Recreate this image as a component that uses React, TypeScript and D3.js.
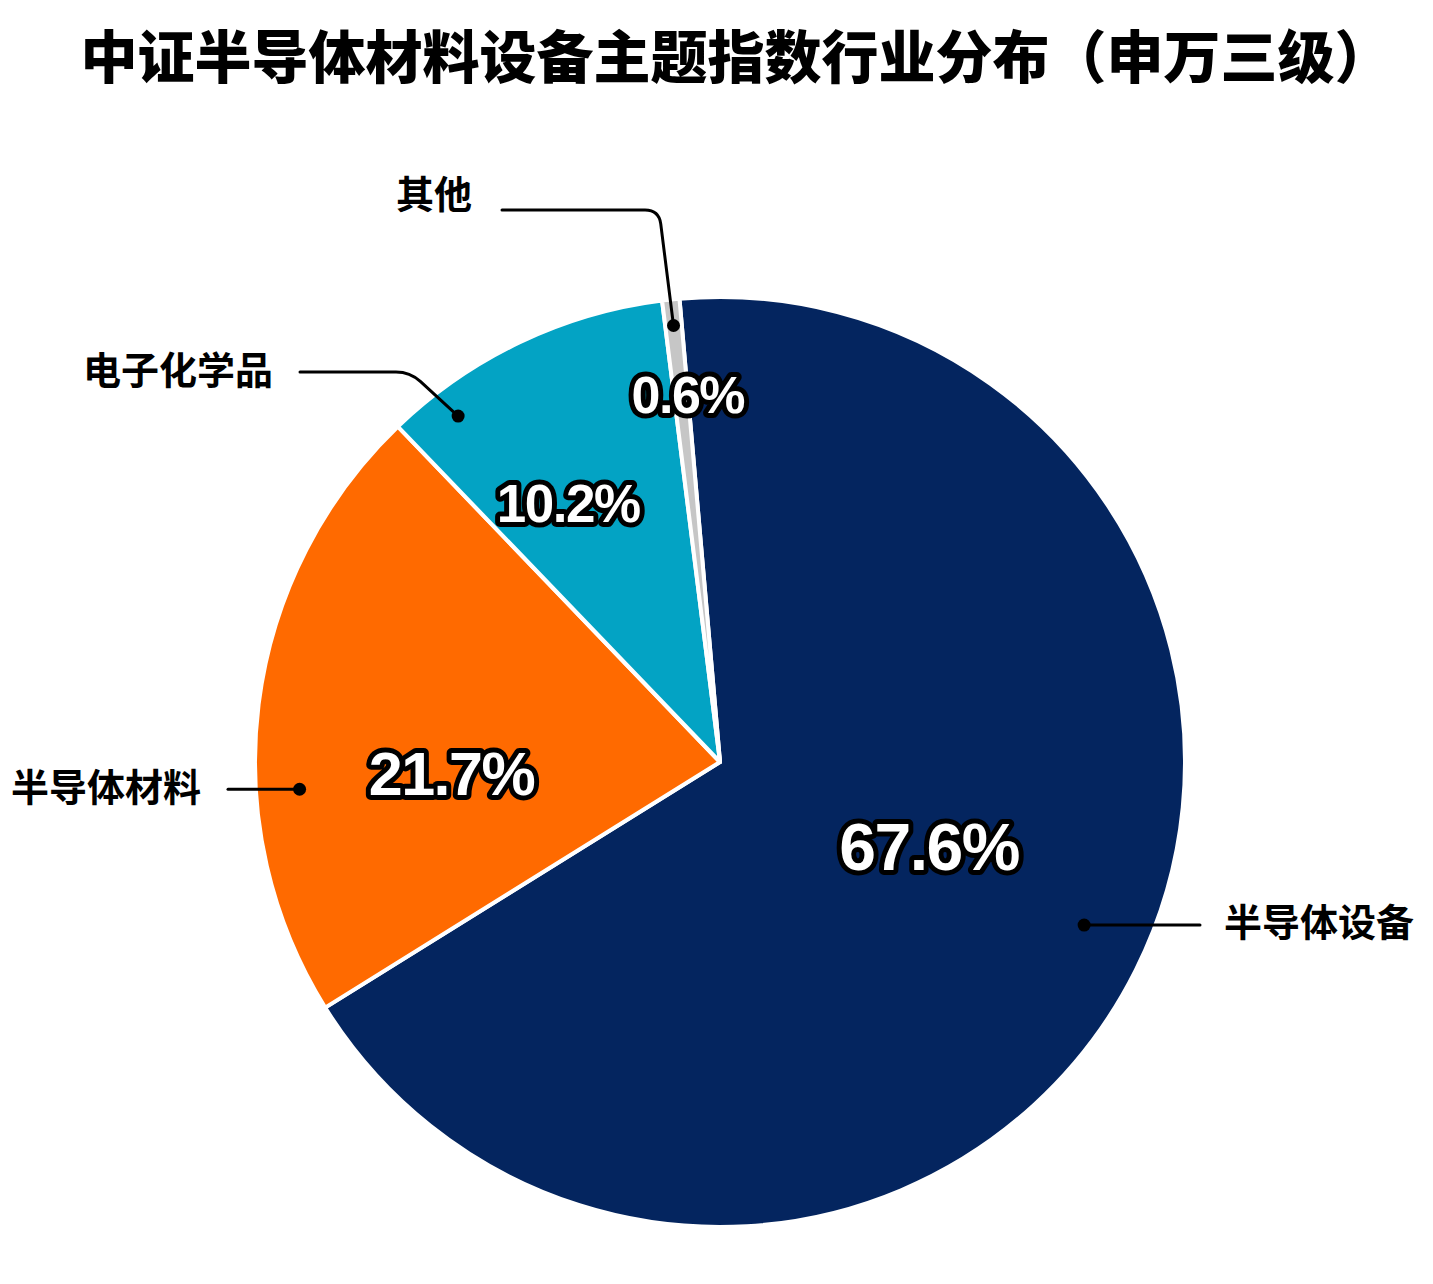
import { useEffect, useRef } from 'react';
import * as d3 from 'd3';

// 数据（申万三级行业占比，%）
const categories = ['半导体设备', '半导体材料', '电子化学品', '其他'];
const shares = [67.6, 21.7, 10.2, 0.6];
const pctLabels = ['67.6%', '21.7%', '10.2%', '0.6%'];
const title = '中证半导体材料设备主题指数行业分布（申万三级）';

const COLORS = ['#04255f', '#ff6a00', '#03a3c4', '#c6c6c6'];

const WIDTH = 1433;
const HEIGHT = 1284;
const CX = 720;
const CY = 762;
const R = 465;
const START = (-5 * Math.PI) / 180;

// label layout inside slices: t = position along the slice angle, r = fraction of radius
const PCT_LAYOUT = [
  { t: 0.481, r: 0.485, size: 66 },
  { t: 0.379, r: 0.578, size: 61 },
  { t: 0.368, r: 0.646, size: 53 },
  { t: 1.0, r: 0.794, size: 52 },
];

// callouts: dot inside slice, optional elbow, horizontal run to endX, text
const CALLOUTS = [
  { t: 0.49, r: 0.858, elbow: null as null | [number, number], endX: 1200, textX: 1224, anchor: 'start', dy: 11 },
  { t: 0.361, r: 0.906, elbow: null as null | [number, number], endX: 228, textX: 11, anchor: 'start', dy: 12 },
  { t: 0.183, r: 0.933, elbow: [410, 372] as [number, number], endX: 300, textX: 83, anchor: 'start', dy: 12 },
  { t: 0.5, r: 0.944, elbow: [659, 210] as [number, number], endX: 502, textX: 472, anchor: 'end', dy: -2 },
];

const CJK = '"Noto Sans CJK SC", "Noto Sans", sans-serif';

export default function App() {
  const svgRef = useRef<SVGSVGElement>(null);

  useEffect(() => {
    if (!svgRef.current) return;
    const svg = d3.select(svgRef.current);
    svg.selectAll('*').remove();

    svg.append('rect').attr('width', WIDTH).attr('height', HEIGHT).attr('fill', '#ffffff');

    // Title
    svg
      .append('text')
      .attr('x', 736)
      .attr('y', 78)
      .attr('text-anchor', 'middle')
      .attr('font-family', CJK)
      .attr('font-weight', 900)
      .attr('font-size', 57)
      .attr('fill', '#000')
      .text(title);

    const data = categories.map((name, i) => ({ name, value: shares[i], i }));
    type D = (typeof data)[number];

    const pie = d3
      .pie<D>()
      .value((d) => d.value)
      .sort(null)
      .startAngle(START)
      .endAngle(START + 2 * Math.PI);

    const arc = d3.arc<d3.PieArcDatum<D>>().innerRadius(0).outerRadius(R);

    const arcs = pie(data);
    const g = svg.append('g').attr('transform', `translate(${CX},${CY})`);

    g.selectAll('path')
      .data(arcs)
      .join('path')
      .attr('d', arc)
      .attr('fill', (d) => COLORS[d.data.i])
      .attr('stroke', '#ffffff')
      .attr('stroke-width', 4)
      .attr('stroke-linejoin', 'round');

    const polar = (d: d3.PieArcDatum<D>, t: number, rf: number): [number, number] => {
      const a = d.startAngle + t * (d.endAngle - d.startAngle);
      const r = rf * R;
      return [CX + r * Math.sin(a), CY - r * Math.cos(a)];
    };

    // Callouts
    const co = svg.append('g');
    arcs.forEach((d) => {
      const c = CALLOUTS[d.data.i];
      const [dx, dy] = polar(d, c.t, c.r);
      const p = d3.path();
      p.moveTo(dx, dy);
      let lineY = dy;
      if (c.elbow) {
        const [ex, ey] = c.elbow;
        lineY = ey;
        const len = Math.hypot(ex - dx, ey - dy);
        const k = 14 / len;
        p.lineTo(ex - (ex - dx) * k, ey - (ey - dy) * k);
        const dir = Math.sign(c.endX - ex);
        p.quadraticCurveTo(ex, ey, ex + dir * 14, ey);
      }
      p.lineTo(c.endX, lineY);
      co.append('path')
        .attr('d', p.toString())
        .attr('fill', 'none')
        .attr('stroke', '#000')
        .attr('stroke-width', 3)
        .attr('stroke-linecap', 'round');
      co.append('circle').attr('cx', dx).attr('cy', dy).attr('r', 6.5).attr('fill', '#000');
      co.append('text')
        .attr('x', c.textX)
        .attr('y', lineY + c.dy)
        .attr('text-anchor', c.anchor)
        .attr('font-family', CJK)
        .attr('font-weight', 700)
        .attr('font-size', 38)
        .attr('fill', '#000')
        .text(d.data.name);
    });

    // Percentage labels
    const lg = svg.append('g');
    arcs.forEach((d) => {
      const l = PCT_LAYOUT[d.data.i];
      const [x, y] = polar(d, l.t, l.r);
      lg.append('text')
        .attr('x', x)
        .attr('y', y)
        .attr('dy', '0.36em')
        .attr('text-anchor', 'middle')
        .attr('font-family', '"Liberation Sans", Arial, sans-serif')
        .attr('font-weight', 700)
        .attr('font-size', l.size)
        .attr('letter-spacing', -1.5)
        .attr('fill', '#ffffff')
        .attr('stroke', '#000')
        .attr('stroke-width', 10)
        .attr('stroke-linejoin', 'round')
        .attr('paint-order', 'stroke')
        .text(pctLabels[d.data.i]);
    });
  }, []);

  return (
    <svg
      ref={svgRef}
      width={WIDTH}
      height={HEIGHT}
      style={{ position: 'absolute', left: 0, top: 0, display: 'block' }}
    />
  );
}
